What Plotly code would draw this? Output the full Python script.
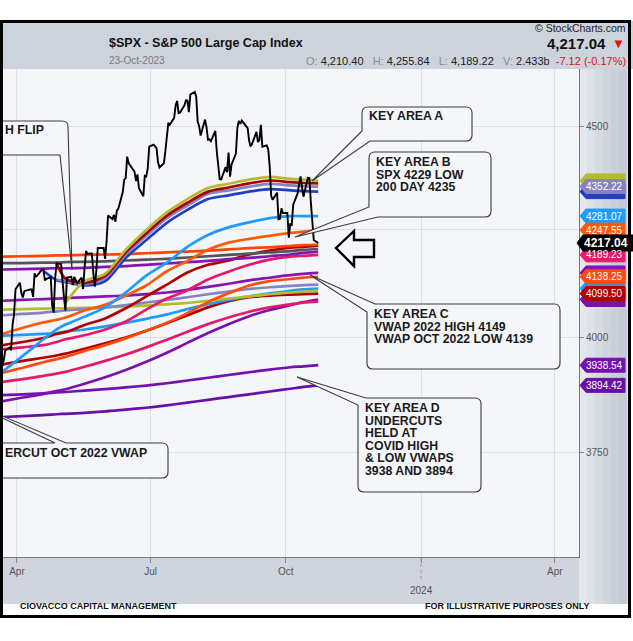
import math
import plotly.graph_objects as go

# ---------------- DATA ----------------
PRICE_DATES = [
 "2023-03-22","2023-03-23","2023-03-24","2023-03-27","2023-03-28","2023-03-29","2023-03-30","2023-03-31",
 "2023-04-03","2023-04-04","2023-04-05","2023-04-06","2023-04-10","2023-04-11","2023-04-12","2023-04-13","2023-04-14",
 "2023-04-17","2023-04-18","2023-04-19","2023-04-20","2023-04-21","2023-04-24","2023-04-25","2023-04-26","2023-04-27","2023-04-28",
 "2023-05-01","2023-05-02","2023-05-03","2023-05-04","2023-05-05","2023-05-08","2023-05-09","2023-05-10","2023-05-11","2023-05-12",
 "2023-05-15","2023-05-16","2023-05-17","2023-05-18","2023-05-19","2023-05-22","2023-05-23","2023-05-24","2023-05-25","2023-05-26",
 "2023-05-30","2023-05-31","2023-06-01","2023-06-02","2023-06-05","2023-06-06","2023-06-07","2023-06-08","2023-06-09",
 "2023-06-12","2023-06-13","2023-06-14","2023-06-15","2023-06-16","2023-06-20","2023-06-21","2023-06-22","2023-06-23",
 "2023-06-26","2023-06-27","2023-06-28","2023-06-29","2023-06-30","2023-07-03","2023-07-05","2023-07-06","2023-07-07",
 "2023-07-10","2023-07-11","2023-07-12","2023-07-13","2023-07-14","2023-07-17","2023-07-18","2023-07-19","2023-07-20","2023-07-21",
 "2023-07-24","2023-07-25","2023-07-26","2023-07-27","2023-07-28","2023-07-31","2023-08-01","2023-08-02","2023-08-03","2023-08-04",
 "2023-08-07","2023-08-08","2023-08-09","2023-08-10","2023-08-11","2023-08-14","2023-08-15","2023-08-16","2023-08-17","2023-08-18",
 "2023-08-21","2023-08-22","2023-08-23","2023-08-24","2023-08-25","2023-08-28","2023-08-29","2023-08-30","2023-08-31","2023-09-01",
 "2023-09-05","2023-09-06","2023-09-07","2023-09-08","2023-09-11","2023-09-12","2023-09-13","2023-09-14","2023-09-15",
 "2023-09-18","2023-09-19","2023-09-20","2023-09-21","2023-09-22","2023-09-25","2023-09-26","2023-09-27","2023-09-28","2023-09-29",
 "2023-10-02","2023-10-03","2023-10-04","2023-10-05","2023-10-06","2023-10-09","2023-10-10","2023-10-11","2023-10-12","2023-10-13",
 "2023-10-16","2023-10-17","2023-10-18","2023-10-19","2023-10-20","2023-10-23"]
PRICE_CLOSE = [
 3936.97,3948.72,3970.99,3977.53,3971.27,4027.81,4050.83,4109.31,
 4124.51,4100.60,4090.38,4105.02,4109.11,4108.94,4091.95,4146.22,4137.64,
 4151.32,4154.87,4154.52,4129.79,4133.52,4137.04,4071.63,4055.99,4135.35,4169.48,
 4167.87,4119.58,4090.75,4061.22,4136.25,4138.12,4119.17,4137.64,4130.62,4124.08,
 4136.28,4109.90,4158.77,4198.05,4191.98,4192.63,4145.58,4115.24,4151.28,4205.45,
 4205.52,4179.83,4221.02,4282.37,4273.79,4283.85,4267.52,4293.93,4298.86,
 4338.93,4369.01,4372.59,4425.84,4409.59,4388.71,4365.69,4381.89,4348.33,
 4328.82,4378.41,4376.86,4396.44,4450.38,4455.59,4446.82,4411.59,4398.95,
 4409.53,4439.26,4472.16,4510.04,4505.42,4522.79,4554.98,4565.72,4534.87,4536.34,
 4554.64,4567.46,4566.75,4537.41,4582.23,4588.96,4576.73,4513.39,4501.89,4478.03,
 4518.44,4499.38,4467.71,4468.83,4464.05,4489.72,4437.86,4404.33,4370.36,4369.71,
 4399.77,4387.55,4436.01,4376.31,4405.71,4433.31,4497.63,4514.87,4507.66,4515.77,
 4496.83,4465.48,4451.14,4457.49,4487.46,4461.90,4467.44,4505.10,4450.32,
 4453.53,4443.95,4402.20,4330.00,4320.06,4337.44,4273.53,4274.51,4299.70,4288.05,
 4288.39,4229.45,4263.75,4258.19,4308.50,4335.66,4358.24,4376.95,4349.61,4327.78,
 4373.63,4373.20,4314.60,4278.00,4224.16,4217.04]

VW_DATES = ["2023-03-22","2023-04-05","2023-04-19","2023-04-28","2023-05-04","2023-05-17","2023-05-31",
            "2023-06-14","2023-06-28","2023-07-12","2023-07-26","2023-08-09","2023-08-23","2023-09-06",
            "2023-09-20","2023-10-04","2023-10-13","2023-10-23"]
N = None
COVID_LOW   = [3826,3828,3830,3832,3833,3835,3838,3842,3846,3851,3857,3863,3869,3875,3881,3887,3891,3894.42]
COVID_HIGH  = [3873,3875,3877,3879,3880,3883,3886,3890,3894,3899,3905,3911,3917,3923,3929,3934,3936,3938.54]
PURPLE_LOW  = [3860,3868,3876,3882,3886,3898,3912,3928,3946,3966,3988,4010,4030,4048,4062,4073,4080,4086]
PINK_LOW    = [3902,3908,3915,3920,3924,3935,3948,3962,3978,3995,4013,4030,4045,4058,4068,4075,4079,4081]
RED_LOW     = [3940,3948,3955,3960,3964,3975,3987,4000,4015,4032,4050,4068,4082,4091,4095,4097,4098,4099.50]
LBLUE_LOW   = [4004,4006,4008,4010,4013,4018,4025,4033,4042,4052,4064,4075,4085,4093,4100,4106,4109,4111]
OLIVE_FLAT  = [4063,4064,4065,4066,4066,4067,4068,4070,4072,4075,4078,4083,4088,4093,4098,4102,4104,4106]
LAV_LOW     = [4050,4053,4056,4059,4061,4064,4068,4073,4079,4085,4091,4098,4104,4110,4114,4117,4119,4120]
ORANGE_LOW  = [3922,3933,3945,3952,3957,3970,3983,3998,4015,4033,4055,4080,4100,4118,4128,4133,4136,4138.25]
PURPLE_22H  = [4083,4085,4087,4088,4089,4091,4093,4095,4098,4102,4108,4115,4122,4130,4136,4142,4145,4147]
PINK_MID    = [3974,3978,3983,3990,3996,4005,4018,4036,4063,4088,4107,4132,4150,4166,4178,4185,4187,4189.23]
RED_MID     = [3983,3990,3999,4008,4012,4028,4043,4066,4093,4120,4148,4166,4176,4190,4199,4206,4208,4211]
PURPLE_FLAT = [4155,4156,4157,4158,4158,4159,4161,4163,4166,4169,4172,4175,4179,4182,4186,4190,4194,4197]
GREY_FLAT   = [4170,4170,4171,4171,4172,4173,4174,4176,4178,4180,4183,4186,4189,4192,4195,4198,4201,4203]
ORANGE_FLAT = [4185,4186,4187,4188,4188,4189,4190,4191,4193,4195,4197,4199,4202,4205,4207,4210,4212,4213]
ORANGE_UP   = [4008,4022,4034,4040,4045,4061,4074,4095,4118,4151,4175,4201,4218,4227,4234,4241,4244,4247.55]
LBLUE_UP    = [3924,3959,3996,4018,4029,4047,4068,4102,4141,4171,4208,4236,4254,4266,4276,4281,4281,4281.07]
BLUE_UP     = [N,N,4152,4130,4126,4118,4128,4182,4224,4265,4296,4322,4331,4340,4346,4343,4341,4340]
LAV_UP      = [N,N,N,4132,4128,4121,4135,4190,4234,4276,4306,4334,4343,4352,4359,4355,4353,4352.22]
RED_UP      = [N,N,N,4169,4134,4124,4140,4195,4240,4282,4313,4340,4350,4360,4367,4363,4361,4360]
OLIVE_UP    = [N,N,N,N,4078,4128,4145,4201,4248,4290,4322,4349,4359,4369,4376,4371,4369,4366]

LINES = [
    (COVID_LOW, "#6a0fa8"), (COVID_HIGH, "#7410b0"),
    (PURPLE_LOW, "#7a12b0"), (PINK_LOW, "#e8186a"), (RED_LOW, "#b00000"),
    (LBLUE_LOW, "#1e9bff"), (OLIVE_FLAT, "#b8ba2e"), (LAV_LOW, "#8783c2"),
    (ORANGE_LOW, "#ff4a0a"), (PURPLE_22H, "#8a14b2"), (PINK_MID, "#e8186a"),
    (RED_MID, "#b00000"), (PURPLE_FLAT, "#8a14b2"), (GREY_FLAT, "#555555"),
    (ORANGE_FLAT, "#ff4500"), (ORANGE_UP, "#ff5a0a"), (LBLUE_UP, "#1e9bff"),
    (BLUE_UP, "#1f3fbf"), (LAV_UP, "#8783c2"), (RED_UP, "#a80000"), (OLIVE_UP, "#b8ba2e"),
]

TAGS = [
    (4366, "#b8ba2e", None), (4340, "#1f3fbf", None), (4352.22, "#8783c2", "4352.22"),
    (4281.07, "#1e9bff", "4281.07"), (4247.55, "#ff5a0a", "4247.55"),
    (4147, "#8a14b2", None), (4111, "#1e9bff", None), (4086, "#7a12b0", None),
    (4099.50, "#b00000", "4099.50"), (4138.25, "#ff4a0a", "4138.25"),
    (4189.23, "#e8186a", "4189.23"),
    (3938.54, "#7410b0", "3938.54"), (3894.42, "#6a0fa8", "3894.42"),
]
LAST_PRICE = 4217.04

Y_TICKS = [3750, 4000, 4250, 4500]
X_TICKS = ["2023-04-01", "2023-07-01", "2023-10-01", "2024-01-01", "2024-04-01"]
X_TICKTEXT = ["Apr", "Jul", "Oct", "", "Apr"]

# ---------------- GEOMETRY ----------------
W, H = 633, 641
PL, PR, PT, PB = 3, 579, 69, 557
Y_LO, Y_HI = 3538.0, 4648.0
LLO, LHI = math.log10(Y_LO), math.log10(Y_HI)

def PX(x): return (x - PL) / (PR - PL)
def PY(y): return (PB - y) / (PB - PT)
def VY(v): return (math.log10(v) - LLO) / (LHI - LLO)

def path(pts, close=True):
    s = []
    for p in pts:
        if p[0] in "ML":
            s.append(f"{p[0]} {PX(p[1]):.5f},{PY(p[2]):.5f}")
        else:
            s.append(f"Q {PX(p[1]):.5f},{PY(p[2]):.5f} {PX(p[3]):.5f},{PY(p[4]):.5f}")
    return " ".join(s) + (" Z" if close else "")

fig = go.Figure()
for vals, col in LINES:
    fig.add_trace(go.Scatter(x=VW_DATES, y=vals, mode="lines",
                             line=dict(color=col, width=2.7, shape="spline", smoothing=0.8),
                             connectgaps=False, hoverinfo="skip"))
fig.add_trace(go.Scatter(x=PRICE_DATES, y=PRICE_CLOSE, mode="lines",
                         line=dict(color="#000000", width=1.9), hoverinfo="skip"))

shapes = []
def rect(x0, y0, x1, y1, fill, layer="below"):
    shapes.append(dict(type="rect", xref="paper", yref="paper", x0=PX(x0), x1=PX(x1),
                       y0=PY(y0), y1=PY(y1), fillcolor=fill, line=dict(width=0), layer=layer))

rect(0, 21, 633, 69, "#cdd3dd")
rect(0, 557, 580, 604, "#cfd4de")
band = ["#e4e7ed", "#dde1e8", "#d6dae2", "#d0d4dd", "#cacfd8", "#c5cad4"]
for i, c in enumerate(band):
    rect(579 + i * 8, 69, 579 + (i + 1) * 8 + 0.5, 604, c)

BOX = dict(type="path", xref="paper", yref="paper", fillcolor="#f4f6fa",
           line=dict(color="#3a3a3a", width=1.1), layer="above")
callouts = [
    path([("M", 3, 121), ("L", 62, 121), ("Q", 68, 121, 68, 127), ("L", 72, 270),
          ("L", 60, 155), ("L", 3, 155)], close=False),
    path([("M", 3, 443), ("L", 55, 443), ("L", -40, 398), ("L", 66, 443), ("L", 162, 443),
          ("Q", 168, 443, 168, 449), ("L", 168, 472), ("Q", 168, 478, 162, 478), ("L", 3, 478)], close=False),
    path([("M", 368, 107), ("L", 466, 107), ("Q", 472, 107, 472, 113), ("L", 472, 135),
          ("Q", 472, 141, 466, 141), ("L", 370, 141), ("L", 312, 181), ("L", 362, 131),
          ("L", 362, 113), ("Q", 362, 107, 368, 107)]),
    path([("M", 375, 152), ("L", 485, 152), ("Q", 491, 152, 491, 158), ("L", 491, 211),
          ("Q", 491, 217, 485, 217), ("L", 378, 217), ("L", 295, 237), ("L", 369, 207),
          ("L", 369, 158), ("Q", 369, 152, 375, 152)]),
    path([("M", 375, 304), ("L", 554, 304), ("Q", 560, 304, 560, 310), ("L", 560, 363),
          ("Q", 560, 369, 554, 369), ("L", 373, 369), ("Q", 367, 369, 367, 363),
          ("L", 367, 312), ("L", 310, 275)]),
    path([("M", 366, 398), ("L", 475, 398), ("Q", 481, 398, 481, 404), ("L", 481, 486),
          ("Q", 481, 492, 475, 492), ("L", 364, 492), ("Q", 358, 492, 358, 486),
          ("L", 358, 405), ("L", 297, 377)]),
]
for p in callouts:
    shapes.append(dict(BOX, path=p))

shapes.append(dict(type="path", xref="paper", yref="paper", layer="above", fillcolor="#f4f6fa",
                   line=dict(color="#000000", width=2.4),
                   path=path([("M", 336, 248), ("L", 354, 231), ("L", 354, 240), ("L", 374, 240),
                              ("L", 374, 257), ("L", 354, 257), ("L", 354, 266)])))

shapes.append(dict(type="line", xref="paper", yref="paper", x0=PX(421), x1=PX(421),
                   y0=PY(558), y1=PY(582), line=dict(color="#9a9a9a", width=1, dash="dot")))

shapes.append(dict(type="rect", xref="paper", yref="paper", x0=PX(1.5), x1=PX(629.5),
                   y0=PY(21.5), y1=PY(616.5), line=dict(color="#000000", width=3), layer="above"))

def tag_path(v, x0, x1, h):
    yc = VY(v); dh = (h / 2) / (PB - PT)
    return (f"M {PX(x0):.5f},{yc:.5f} L {PX(x0+6):.5f},{yc+dh:.5f} L {PX(x1):.5f},{yc+dh:.5f} "
            f"L {PX(x1):.5f},{yc-dh:.5f} L {PX(x0+6):.5f},{yc-dh:.5f} Z")

annots = []
FONT = "Liberation Sans, Arial, sans-serif"
for v, col, lab in TAGS:
    shapes.append(dict(type="path", xref="paper", yref="paper", layer="above", fillcolor=col,
                       line=dict(color=col, width=1), path=tag_path(v, 580, 625, 14)))
    if lab:
        annots.append(dict(xref="paper", yref="paper", x=PX(604), y=VY(v), text=lab,
                           showarrow=False, xanchor="center", yanchor="middle",
                           font=dict(family=FONT, size=10, color="#ffffff")))
shapes.append(dict(type="path", xref="paper", yref="paper", layer="above", fillcolor="#000000",
                   line=dict(color="#000000", width=1), path=tag_path(LAST_PRICE, 577, 634, 16)))
annots.append(dict(xref="paper", yref="paper", x=PX(606), y=VY(LAST_PRICE), text=f"<b>{LAST_PRICE:.2f}</b>",
                   showarrow=False, xanchor="center", yanchor="middle",
                   font=dict(family=FONT, size=12, color="#ffffff")))

def txt(x, y, s, size=12.3, color="#1a1a1a", anchor="left", family=FONT):
    annots.append(dict(xref="paper", yref="paper", x=PX(x), y=PY(y), text=s, showarrow=False,
                       xanchor=anchor, yanchor="middle", font=dict(family=family, size=size, color=color)))

txt(107, 43, "<b>$SPX - S&amp;P 500 Large Cap Index</b>", size=12.5, color="#111")
txt(107, 61, "23-Oct-2023", size=10, color="#7a7a7a")
txt(628, 28, "© StockCharts.com", size=10.5, color="#222", anchor="right")
txt(608, 43, "<b>4,217.04</b>", size=15, color="#111", anchor="right")
txt(627, 43, "▼", size=13, color="#e01010", anchor="right")
g = "color:#8a8a8a"
txt(628, 61, f"<span style='{g}'>O:</span> 4,210.40&nbsp;&nbsp; <span style='{g}'>H:</span> 4,255.84&nbsp;&nbsp; "
              f"<span style='{g}'>L:</span> 4,189.22&nbsp;&nbsp; <span style='{g}'>V:</span> 2.433b&nbsp; "
              f"<span style='color:#e01010'>-7.12 (-0.17%)</span>", size=11, color="#222", anchor="right")

txt(3, 130, "<b>H FLIP</b>")
txt(3, 453, "<b>ERCUT OCT 2022 VWAP</b>")
txt(367, 116, "<b>KEY AREA A</b>")
for i, s in enumerate(["KEY AREA B", "SPX 4229 LOW", "200 DAY 4235"]):
    txt(374, 162 + i * 12.5, f"<b>{s}</b>")
for i, s in enumerate(["KEY AREA C", "VWAP 2022 HIGH 4149", "VWAP OCT 2022 LOW 4139"]):
    txt(372, 314 + i * 12.5, f"<b>{s}</b>")
for i, s in enumerate(["KEY AREA D", "UNDERCUTS", "HELD AT", "COVID HIGH", "&amp; LOW VWAPS", "3938 AND 3894"]):
    txt(363, 408 + i * 12.6, f"<b>{s}</b>")

txt(421, 590, "2024", size=10, color="#555", anchor="center")
txt(18, 606, "<b>CIOVACCO CAPITAL MANAGEMENT</b>", size=9, color="#111")
txt(592, 606, "<b>FOR ILLUSTRATIVE PURPOSES ONLY</b>", size=9, color="#111", anchor="right")

fig.update_layout(
    width=W, height=H, showlegend=False,
    margin=dict(l=PL, r=W - PR, t=PT, b=H - PB, pad=0),
    paper_bgcolor="#ffffff", plot_bgcolor="#f4f6fa",
    shapes=shapes, annotations=annots,
    xaxis=dict(type="date", range=["2023-03-22 12:00", "2024-04-17 12:00"],
               tickvals=X_TICKS, ticktext=X_TICKTEXT, showgrid=True, gridcolor="#dcdfe6",
               ticks="outside", ticklen=5, tickcolor="#8a8a8a", showline=True, linecolor="#777",
               linewidth=1, tickfont=dict(family=FONT, size=10, color="#555"), zeroline=False),
    yaxis=dict(type="log", side="right", range=[LLO, LHI], tickvals=Y_TICKS,
               ticktext=[str(t) for t in Y_TICKS], showgrid=True, gridcolor="#dcdfe6",
               ticks="outside", ticklen=4, tickcolor="#8a8a8a", showline=True, linecolor="#777",
               linewidth=1, tickfont=dict(family=FONT, size=10, color="#555"), zeroline=False),
)
fig.write_html("out.html", config={"displayModeBar": False},
               post_script="document.body.style.margin='0px';document.body.style.overflow='hidden';")
